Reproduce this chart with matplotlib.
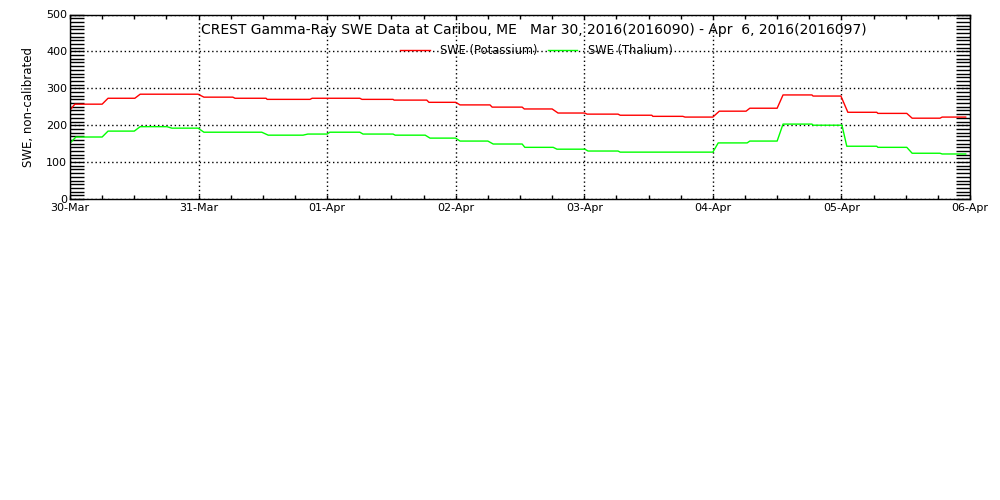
import matplotlib
matplotlib.use("Agg")
import matplotlib.pyplot as plt
import matplotlib.dates as mdates
from matplotlib.ticker import MultipleLocator
import pandas as pd

start = pd.Timestamp("2016-03-30")

# hours after Mar 30 00:00 and SWE values
k_hours = [0, 0.9, 6.0, 7.1, 12.1, 13.1, 23.9, 25.0, 30.4, 30.8, 36.6, 36.8,
           44.8, 45.2, 54.1, 54.5, 60.3, 60.5, 66.6, 67.0, 72.0, 72.8, 78.4, 78.8,
           84.4, 84.8, 90.0, 91.1, 96.1, 96.5, 102.3, 102.7, 108.6, 108.8,
           114.4, 114.8, 120.0, 121.2, 126.2, 126.9, 132.0, 133.1, 138.5, 138.7,
           143.9, 145.2, 150.6, 150.8, 156.2, 157.2, 162.4, 162.8, 167.2]
k_swe = [241, 257, 257, 273, 273, 284, 284, 276, 276, 273, 273, 270,
         270, 273, 273, 270, 270, 268, 268, 262, 262, 255, 255, 249,
         249, 244, 244, 233, 233, 230, 230, 227, 227, 224,
         224, 222, 222, 238, 238, 246, 246, 282, 282, 279,
         279, 235, 235, 232, 232, 219, 219, 222, 222]

t_hours = [0, 1.1, 6.0, 7.1, 12.0, 13.1, 18.1, 19.0, 23.9, 25.0, 35.8, 37.0,
           43.5, 44.4, 48.0, 48.5, 54.1, 54.7, 60.3, 60.7, 66.3, 67.2, 72.0, 72.8,
           78.0, 79.0, 84.4, 84.9, 90.2, 90.9, 96.1, 96.7, 102.3, 102.7,
           120.0, 121.0, 126.4, 126.9, 132.0, 133.1, 138.5, 138.7,
           144.1, 145.0, 150.6, 150.8, 156.2, 157.2, 162.4, 162.8, 167.2]
t_swe = [151, 168, 168, 184, 184, 196, 196, 192, 192, 181, 181, 173,
         173, 176, 176, 181, 181, 176, 176, 173, 173, 165, 165, 157,
         157, 149, 149, 140, 140, 135, 135, 130, 130, 127,
         127, 152, 152, 157, 157, 203, 203, 200,
         200, 143, 143, 140, 140, 124, 124, 122, 122]

title = "CREST Gamma-Ray SWE Data at Caribou, ME   Mar 30, 2016(2016090) - Apr  6, 2016(2016097)"

k_time = [start + pd.Timedelta(hours=h) for h in k_hours]
t_time = [start + pd.Timedelta(hours=h) for h in t_hours]

fig = plt.figure(figsize=(10, 5), dpi=100)
ax = fig.add_axes([0.07, 0.602, 0.9, 0.369])

ax.plot(k_time, k_swe, color="#ff0000", lw=1, label="SWE (Potassium)")
ax.plot(t_time, t_swe, color="#00ff00", lw=1, label="SWE (Thalium)")

ax.set_xlim(start, start + pd.Timedelta(days=7))
ax.set_ylim(0, 500)

ax.xaxis.set_major_locator(mdates.DayLocator())
ax.xaxis.set_major_formatter(mdates.DateFormatter("%d-%b"))
ax.xaxis.set_minor_locator(mdates.HourLocator(byhour=[6, 12, 18]))
ax.yaxis.set_major_locator(MultipleLocator(100))
ax.yaxis.set_minor_locator(MultipleLocator(10))

ax.tick_params(axis="y", which="both", direction="in", length=10, width=1,
               left=True, right=True, labelsize=8, pad=2)
ax.tick_params(axis="x", which="both", direction="in", length=3, width=1,
               top=True, bottom=True, labelsize=8, pad=3)

# IDL lifts the zero label so it sits above the axis line
fig.canvas.draw()
ax.get_yticklabels()[0].set_va("bottom")

ax.grid(True, which="major", color="black", lw=1, linestyle=(0, (1, 2)))
for s in ax.spines.values():
    s.set_linewidth(1)

ax.set_ylabel("SWE, non-calibrated", fontsize=8.5, labelpad=8)
ax.text(0.515, 0.916, title, transform=ax.transAxes, ha="center", va="center",
        fontsize=10)
ax.legend(loc="center", bbox_to_anchor=(0.518, 0.805), ncol=2, frameon=False,
          fontsize=8.3, handlelength=2.6, handletextpad=0.87, columnspacing=0.87)

fig.savefig("out.png", dpi=100, facecolor="white")
